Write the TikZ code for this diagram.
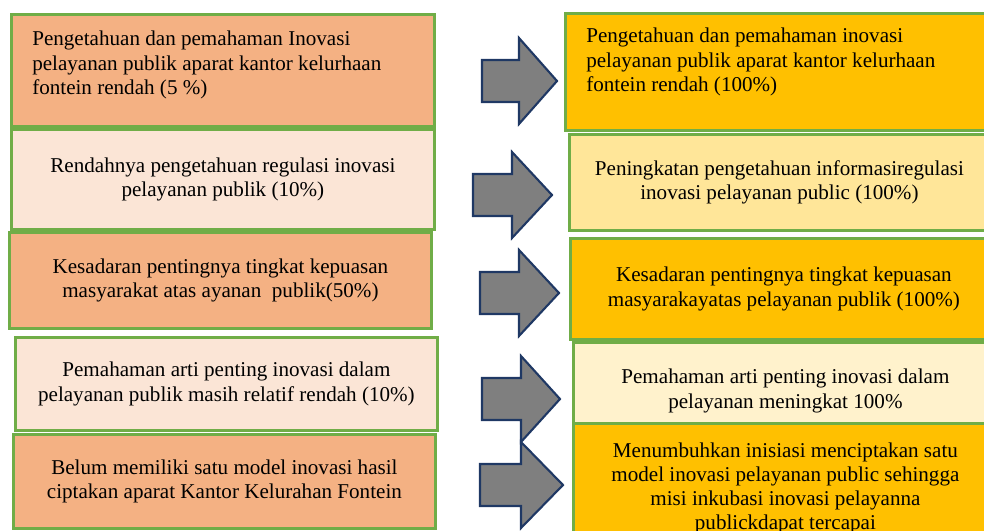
\documentclass[tikz,border=0pt]{standalone}
\usepackage{fontspec}
\setmainfont{Liberation Serif}
\usepackage{xcolor}
\usetikzlibrary{positioning}

\definecolor{boxorange}{HTML}{F4B183}
\definecolor{boxpeach}{HTML}{FBE5D6}
\definecolor{boxgold}{HTML}{FFC000}
\definecolor{boxcream}{HTML}{FFE699}
\definecolor{boxivory}{HTML}{FFF2CC}
\definecolor{boxgreen}{HTML}{70AD47}
\definecolor{arrowgray}{HTML}{7F7F7F}
\definecolor{arrownavy}{HTML}{1F3864}

\newdimen\px \px=0.025cm

\tikzset{
    box/.style={draw=boxgreen, line width=2pt, anchor=north west, inner sep=0pt,
        align=center, font=\fontsize{15}{17.2}\selectfont},
    boxtext/.style={inner sep=0pt, align=left, font=\fontsize{15}{17.2}\selectfont},
    bigarrow/.style={draw=arrownavy, fill=arrowgray, line width=1.5pt, line join=miter}
}

\begin{document}
\begin{tikzpicture}[x=0.025cm, y=-0.025cm]
                    \useasboundingbox (0,0) rectangle (984,531);

                    % left column
                    \node[box, fill=boxorange, minimum width=423\px, minimum height=112\px] (l1) at (10,13) {};
                    \node[boxtext, below right=18\px and 22\px of l1.north west] (l1t)
                        {Pengetahuan dan pemahaman Inovasi\\pelayanan publik aparat kantor kelurhaan\\fontein rendah (5 \%)};
                    \node[box, fill=boxpeach, minimum width=423\px, minimum height=100\px] (l2) at (10,128)
                        {Rendahnya pengetahuan regulasi inovasi\\pelayanan publik (10\%)};
                    \node[box, fill=boxorange, minimum width=422\px, minimum height=96\px] (l3) at (8,231)
                        {Kesadaran pentingnya tingkat kepuasan\\masyarakat atas ayanan~ publik(50\%)};
                    \node[box, fill=boxpeach, minimum width=422\px, minimum height=93\px] (l4) at (14,336)
                        {Pemahaman arti penting inovasi dalam\\pelayanan publik masih relatif rendah (10\%)};
                    \node[box, fill=boxorange, minimum width=422\px, minimum height=94\px] (l5) at (12,433)
                        {Belum memiliki satu model inovasi hasil\\ciptakan aparat Kantor Kelurahan Fontein};

                    % right column
                    \node[box, fill=boxgold, minimum width=426\px, minimum height=117\px] (r1) at (564,12) {};
                    \node[boxtext, below right=16\px and 22\px of r1.north west] (r1t)
                        {Pengetahuan dan pemahaman inovasi\\pelayanan publik aparat kantor kelurhaan\\fontein rendah (100\%)};
                    \node[box, fill=boxcream, minimum width=420\px, minimum height=96\px] (r2) at (568,133)
                        {Peningkatan pengetahuan informasiregulasi\\inovasi pelayanan public (100\%)};
                    \node[box, fill=boxgold, minimum width=427\px, minimum height=101\px] (r3) at (569,237)
                        {Kesadaran pentingnya tingkat kepuasan\\masyarakayatas pelayanan publik (100\%)};
                    \node[box, fill=boxivory, minimum width=424\px, minimum height=97\px] (r4) at (572,341)
                        {Pemahaman arti penting inovasi dalam\\pelayanan meningkat 100\%};
                    \node[box, fill=boxgold, minimum width=424\px, minimum height=130\px] (r5) at (572,422)
                        {Menumbuhkan inisiasi menciptakan satu\\model inovasi pelayanan public sehingga\\misi inkubasi inovasi pelayanna\\publickdapat tercapai};

                    % block arrows: shaft start / head base / tip / centre
                    \foreach \sx/\hx/\tx/\cy in {482/519/557/81, 473/512/552/195, 480/519/559/293, 482/521/560/399, 480/521/563/485}
                        \draw[bigarrow] (\sx,\cy-21) -- (\hx,\cy-21) -- (\hx,\cy-43) -- (\tx,\cy)
                            -- (\hx,\cy+43) -- (\hx,\cy+21) -- (\sx,\cy+21) -- cycle;
                \end{tikzpicture}
\end{document}
